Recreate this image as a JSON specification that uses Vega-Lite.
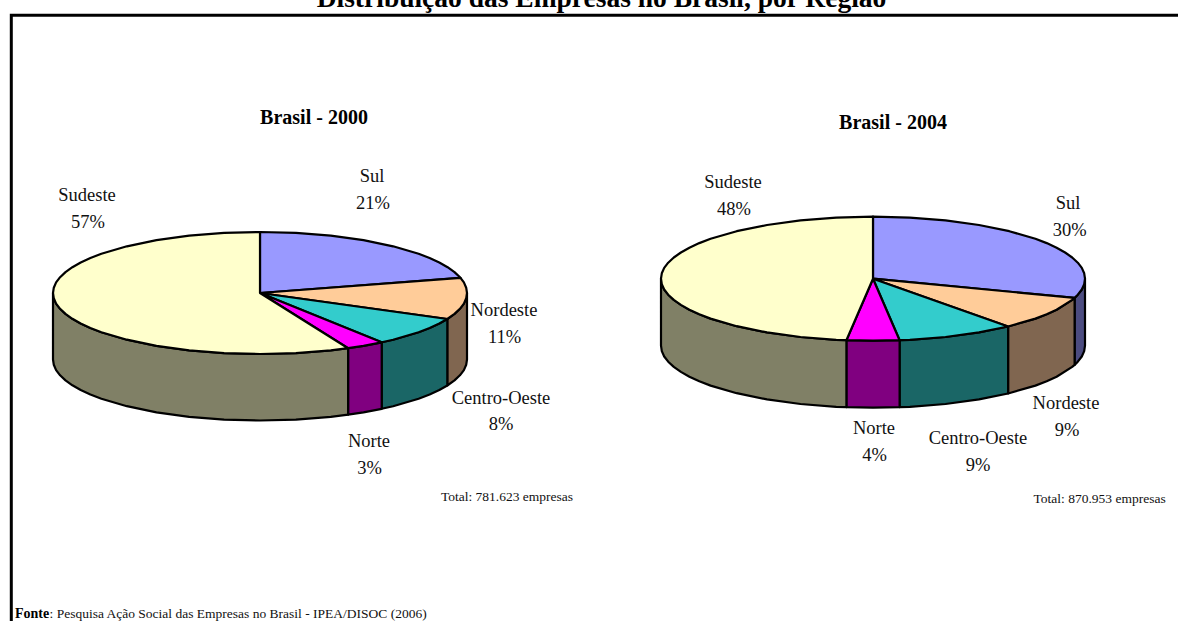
{
"$schema":"https://vega.github.io/schema/vega-lite/v6.json",
"width":1178,"height":621,"padding":0,"autosize":"none","background":"white",
"config":{"view":{"stroke":null}},
"projection":{"type":"identity","scale":1,"translate":[0,0]},
"datasets":{
"fatias":[
{"type":"Feature","properties":{"ano":2000,"regiao":"Nordeste","face":"lateral","chave":"Nordeste lateral"},"geometry":{"type":"Polygon","coordinates":[[[467,293],[466.2,298.3],[463.9,303.6],[459.9,308.8],[454.5,313.9],[447.3,319],[447.3,385.5],[454.5,380.4],[459.9,375.3],[463.9,370.1],[466.2,364.8],[467,359.5],[467,293]]]}},
{"type":"Feature","properties":{"ano":2000,"regiao":"Centro-Oeste","face":"lateral","chave":"Centro-Oeste lateral"},"geometry":{"type":"Polygon","coordinates":[[[447.3,319],[439.3,323.5],[429.6,328],[418.6,332.2],[393.1,339.7],[381.7,342.3],[381.7,408.8],[393.1,406.2],[418.6,398.7],[429.6,394.5],[439.3,390],[447.3,385.5],[447.3,319]]]}},
{"type":"Feature","properties":{"ano":2000,"regiao":"Norte","face":"lateral","chave":"Norte lateral"},"geometry":{"type":"Polygon","coordinates":[[[381.7,342.3],[363.5,345.8],[348.1,348.2],[348.1,414.7],[363.5,412.3],[381.7,408.8],[381.7,342.3]]]}},
{"type":"Feature","properties":{"ano":2000,"regiao":"Sudeste","face":"lateral","chave":"Sudeste lateral"},"geometry":{"type":"Polygon","coordinates":[[[348.1,348.2],[330.8,350.3],[295.9,353.1],[260,354],[224.1,353.1],[189.2,350.3],[156.5,345.8],[126.9,339.7],[101.4,332.2],[90.4,328],[80.7,323.5],[72.4,318.8],[65.5,313.9],[60.1,308.8],[56.1,303.6],[53.8,298.3],[53,293],[53,359.5],[53.8,364.8],[56.1,370.1],[60.1,375.3],[65.5,380.4],[72.4,385.3],[80.7,390],[90.4,394.5],[101.4,398.7],[126.9,406.2],[156.5,412.3],[189.2,416.8],[224.1,419.6],[260,420.5],[295.9,419.6],[330.8,416.8],[348.1,414.7],[348.1,348.2]]]}},
{"type":"Feature","properties":{"ano":2000,"regiao":"Sul","face":"topo","chave":"Sul topo"},"geometry":{"type":"Polygon","coordinates":[[[260,293],[260,232],[295.9,232.9],[330.8,235.7],[363.5,240.2],[393.1,246.3],[418.6,253.8],[429.6,258],[439.3,262.5],[447.6,267.2],[454.5,272.1],[460.5,277.8],[260,293]]]}},
{"type":"Feature","properties":{"ano":2000,"regiao":"Nordeste","face":"topo","chave":"Nordeste topo"},"geometry":{"type":"Polygon","coordinates":[[[260,293],[460.5,277.8],[463.9,282.4],[466.2,287.7],[467,293],[466.2,298.3],[463.9,303.6],[459.9,308.8],[454.5,313.9],[447.3,319],[260,293]]]}},
{"type":"Feature","properties":{"ano":2000,"regiao":"Centro-Oeste","face":"topo","chave":"Centro-Oeste topo"},"geometry":{"type":"Polygon","coordinates":[[[260,293],[447.3,319],[439.3,323.5],[429.6,328],[418.6,332.2],[393.1,339.7],[381.7,342.3],[260,293]]]}},
{"type":"Feature","properties":{"ano":2000,"regiao":"Norte","face":"topo","chave":"Norte topo"},"geometry":{"type":"Polygon","coordinates":[[[260,293],[381.7,342.3],[363.5,345.8],[348.1,348.2],[260,293]]]}},
{"type":"Feature","properties":{"ano":2000,"regiao":"Sudeste","face":"topo","chave":"Sudeste topo"},"geometry":{"type":"Polygon","coordinates":[[[260,293],[348.1,348.2],[330.8,350.3],[295.9,353.1],[260,354],[224.1,353.1],[189.2,350.3],[156.5,345.8],[126.9,339.7],[101.4,332.2],[90.4,328],[80.7,323.5],[72.4,318.8],[65.5,313.9],[60.1,308.8],[56.1,303.6],[53.8,298.3],[53,293],[53.8,287.7],[56.1,282.4],[60.1,277.2],[65.5,272.1],[72.4,267.2],[80.7,262.5],[90.4,258],[101.4,253.8],[126.9,246.3],[156.5,240.2],[189.2,235.7],[224.1,232.9],[260,232],[260,293]]]}},
{"type":"Feature","properties":{"ano":2004,"regiao":"Sul","face":"lateral","chave":"Sul lateral"},"geometry":{"type":"Polygon","coordinates":[[[1085,278.7],[1084.2,284.1],[1081.8,289.5],[1077.8,294.7],[1074.6,297.9],[1074.6,364.9],[1077.8,361.7],[1081.8,356.5],[1084.2,351.1],[1085,345.7],[1085,278.7]]]}},
{"type":"Feature","properties":{"ano":2004,"regiao":"Nordeste","face":"lateral","chave":"Nordeste lateral"},"geometry":{"type":"Polygon","coordinates":[[[1074.6,297.9],[1072.2,299.9],[1056.6,309.7],[1046.7,314.3],[1035.4,318.6],[1008.1,326.5],[1008.1,393.5],[1035.4,385.6],[1046.7,381.3],[1056.6,376.7],[1072.2,366.9],[1074.6,364.9],[1074.6,297.9]]]}},
{"type":"Feature","properties":{"ano":2004,"regiao":"Centro-Oeste","face":"lateral","chave":"Centro-Oeste lateral"},"geometry":{"type":"Polygon","coordinates":[[[1008.1,326.5],[979,332.4],[945.5,337],[909.8,339.8],[899.6,340.2],[899.6,407.2],[909.8,406.8],[945.5,404],[979,399.4],[1008.1,393.5],[1008.1,326.5]]]}},
{"type":"Feature","properties":{"ano":2004,"regiao":"Norte","face":"lateral","chave":"Norte lateral"},"geometry":{"type":"Polygon","coordinates":[[[899.6,340.2],[873,340.7],[846.4,340.2],[846.4,407.2],[873,407.7],[899.6,407.2],[899.6,340.2]]]}},
{"type":"Feature","properties":{"ano":2004,"regiao":"Sudeste","face":"lateral","chave":"Sudeste lateral"},"geometry":{"type":"Polygon","coordinates":[[[846.4,340.2],[836.2,339.8],[800.5,337],[767,332.4],[736.7,326.2],[710.6,318.6],[699.3,314.3],[689.4,309.7],[680.9,304.9],[673.8,299.9],[668.2,294.7],[664.2,289.5],[661.8,284.1],[661,278.7],[661,345.7],[661.8,351.1],[664.2,356.5],[668.2,361.7],[673.8,366.9],[680.9,371.9],[689.4,376.7],[699.3,381.3],[710.6,385.6],[736.7,393.2],[767,399.4],[800.5,404],[836.2,406.8],[846.4,407.2],[846.4,340.2]]]}},
{"type":"Feature","properties":{"ano":2004,"regiao":"Sul","face":"topo","chave":"Sul topo"},"geometry":{"type":"Polygon","coordinates":[[[873,278.7],[873,216.7],[909.8,217.6],[945.5,220.4],[979,225],[1009.3,231.2],[1035.4,238.8],[1046.7,243.1],[1056.6,247.7],[1065.1,252.5],[1072.2,257.5],[1077.8,262.7],[1081.8,267.9],[1084.2,273.3],[1085,278.7],[1084.2,284.1],[1081.8,289.5],[1077.8,294.7],[1074.6,297.9],[873,278.7]]]}},
{"type":"Feature","properties":{"ano":2004,"regiao":"Nordeste","face":"topo","chave":"Nordeste topo"},"geometry":{"type":"Polygon","coordinates":[[[873,278.7],[1074.6,297.9],[1072.2,299.9],[1056.6,309.7],[1046.7,314.3],[1035.4,318.6],[1008.1,326.5],[873,278.7]]]}},
{"type":"Feature","properties":{"ano":2004,"regiao":"Centro-Oeste","face":"topo","chave":"Centro-Oeste topo"},"geometry":{"type":"Polygon","coordinates":[[[873,278.7],[1008.1,326.5],[979,332.4],[945.5,337],[909.8,339.8],[899.6,340.2],[873,278.7]]]}},
{"type":"Feature","properties":{"ano":2004,"regiao":"Norte","face":"topo","chave":"Norte topo"},"geometry":{"type":"Polygon","coordinates":[[[873,278.7],[899.6,340.2],[873,340.7],[846.4,340.2],[873,278.7]]]}},
{"type":"Feature","properties":{"ano":2004,"regiao":"Sudeste","face":"topo","chave":"Sudeste topo"},"geometry":{"type":"Polygon","coordinates":[[[873,278.7],[846.4,340.2],[836.2,339.8],[800.5,337],[767,332.4],[736.7,326.2],[710.6,318.6],[699.3,314.3],[689.4,309.7],[680.9,304.9],[673.8,299.9],[668.2,294.7],[664.2,289.5],[661.8,284.1],[661,278.7],[661.8,273.3],[664.2,267.9],[668.2,262.7],[673.8,257.5],[680.9,252.5],[689.4,247.7],[699.3,243.1],[710.6,238.8],[736.7,231.2],[767,225],[800.5,220.4],[836.2,217.6],[873,216.7],[873,278.7]]]}}
],
"moldura":[
{"type":"Feature","properties":{"nome":"moldura"},"geometry":{"type":"LineString","coordinates":[[11.3,640],[11.3,15.3],[1200,15.3]]}}
],
"rotulos":[
{"ano":2000,"regiao":"Sul","share":0.21,"nx":372,"ny":182,"sx":373,"sy":209},
{"ano":2000,"regiao":"Nordeste","share":0.11,"nx":504,"ny":316,"sx":504.5,"sy":342.7},
{"ano":2000,"regiao":"Centro-Oeste","share":0.08,"nx":501,"ny":404,"sx":501,"sy":430},
{"ano":2000,"regiao":"Norte","share":0.03,"nx":369,"ny":447,"sx":369.7,"sy":474},
{"ano":2000,"regiao":"Sudeste","share":0.57,"nx":87,"ny":201,"sx":88,"sy":228},
{"ano":2004,"regiao":"Sul","share":0.30,"nx":1068,"ny":209,"sx":1069.6,"sy":236},
{"ano":2004,"regiao":"Nordeste","share":0.09,"nx":1066,"ny":409,"sx":1067,"sy":436},
{"ano":2004,"regiao":"Centro-Oeste","share":0.09,"nx":978,"ny":444,"sx":978,"sy":471},
{"ano":2004,"regiao":"Norte","share":0.04,"nx":874,"ny":434,"sx":874.5,"sy":461},
{"ano":2004,"regiao":"Sudeste","share":0.48,"nx":733,"ny":188,"sx":734,"sy":215}
]
},
"layer":[
{"data":{"name":"fatias"},
 "mark":{"type":"geoshape","stroke":"#000000","strokeWidth":2.2,"strokeJoin":"round"},
 "encoding":{"fill":{"field":"properties.chave","type":"nominal","legend":null,"scale":{
  "domain":["Sul topo","Nordeste topo","Centro-Oeste topo","Norte topo","Sudeste topo","Sul lateral","Nordeste lateral","Centro-Oeste lateral","Norte lateral","Sudeste lateral"],
  "range":["#9999FF","#FFCC99","#33CCCC","#FF00FF","#FFFFCC","#4C4C80","#806650","#1A6666","#800080","#808066"]}}}},
{"data":{"name":"moldura"},
 "mark":{"type":"geoshape","filled":false,"stroke":"#000000","strokeWidth":3},
 "encoding":{}},
{"data":{"name":"rotulos"},
 "mark":{"type":"text","font":"Liberation Serif","fontSize":18.5,"align":"center","baseline":"alphabetic","color":"#111111"},
 "encoding":{"longitude":{"field":"nx","type":"quantitative"},"latitude":{"field":"ny","type":"quantitative"},"text":{"field":"regiao","type":"nominal"}}},
{"data":{"name":"rotulos"},
 "mark":{"type":"text","font":"Liberation Serif","fontSize":18.5,"align":"center","baseline":"alphabetic","color":"#111111"},
 "encoding":{"longitude":{"field":"sx","type":"quantitative"},"latitude":{"field":"sy","type":"quantitative"},"text":{"field":"share","type":"quantitative","format":".0%"}}},
{"data":{"values":[{"t":"Distribuição das Empresas no Brasil, por Região","x":601.5,"y":7}]},
 "mark":{"type":"text","font":"Liberation Serif","fontWeight":"bold","fontSize":27.5,"align":"center","baseline":"alphabetic","color":"#000000"},
 "encoding":{"longitude":{"field":"x","type":"quantitative"},"latitude":{"field":"y","type":"quantitative"},"text":{"field":"t","type":"nominal"}}},
{"data":{"values":[{"t":"Brasil - 2000","x":314,"y":124},{"t":"Brasil - 2004","x":893,"y":129}]},
 "mark":{"type":"text","font":"Liberation Serif","fontWeight":"bold","fontSize":20,"align":"center","baseline":"alphabetic","color":"#000000"},
 "encoding":{"longitude":{"field":"x","type":"quantitative"},"latitude":{"field":"y","type":"quantitative"},"text":{"field":"t","type":"nominal"}}},
{"data":{"values":[{"t":"Total: 781.623 empresas","x":507,"y":501},{"t":"Total: 870.953 empresas","x":1099.6,"y":503}]},
 "mark":{"type":"text","font":"Liberation Serif","fontSize":13.5,"align":"center","baseline":"alphabetic","color":"#111111"},
 "encoding":{"longitude":{"field":"x","type":"quantitative"},"latitude":{"field":"y","type":"quantitative"},"text":{"field":"t","type":"nominal"}}},
{"data":{"values":[{"t":"Fonte","x":15,"y":617.7}]},
 "mark":{"type":"text","font":"Liberation Serif","fontWeight":"bold","fontSize":14,"align":"left","baseline":"alphabetic","color":"#000000"},
 "encoding":{"longitude":{"field":"x","type":"quantitative"},"latitude":{"field":"y","type":"quantitative"},"text":{"field":"t","type":"nominal"}}},
{"data":{"values":[{"t":": Pesquisa Ação Social das Empresas no Brasil - IPEA/DISOC (2006)","x":49.5,"y":617.7}]},
 "mark":{"type":"text","font":"Liberation Serif","fontSize":13.5,"align":"left","baseline":"alphabetic","color":"#111111"},
 "encoding":{"longitude":{"field":"x","type":"quantitative"},"latitude":{"field":"y","type":"quantitative"},"text":{"field":"t","type":"nominal"}}}
]
}
